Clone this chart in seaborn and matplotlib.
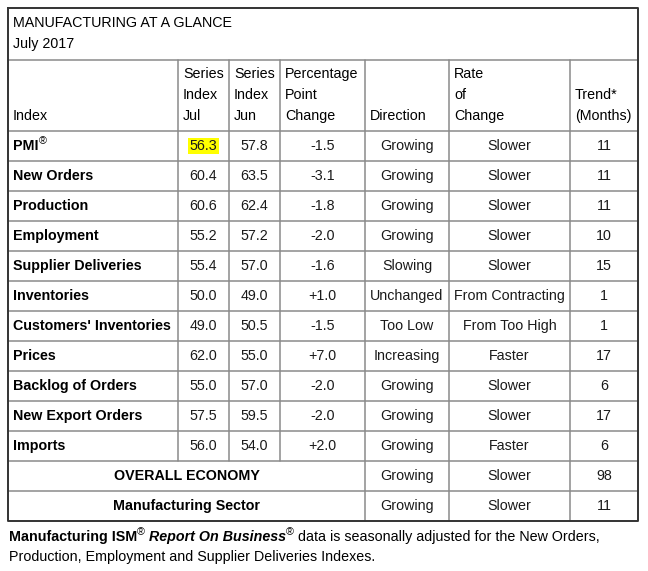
import numpy as np
import seaborn as sns
import matplotlib.pyplot as plt

# table contents
indexes = ['PMI', 'New Orders', 'Production', 'Employment', 'Supplier Deliveries',
           'Inventories', "Customers' Inventories", 'Prices', 'Backlog of Orders',
           'New Export Orders', 'Imports']
jul = [56.3, 60.4, 60.6, 55.2, 55.4, 50.0, 49.0, 62.0, 55.0, 57.5, 56.0]
jun = [57.8, 63.5, 62.4, 57.2, 57.0, 49.0, 50.5, 55.0, 57.0, 59.5, 54.0]
change = [-1.5, -3.1, -1.8, -2.0, -1.6, 1.0, -1.5, 7.0, -2.0, -2.0, 2.0]
direction = ['Growing', 'Growing', 'Growing', 'Growing', 'Slowing', 'Unchanged',
             'Too Low', 'Increasing', 'Growing', 'Growing', 'Growing']
rate = ['Slower', 'Slower', 'Slower', 'Slower', 'Slower', 'From Contracting',
        'From Too High', 'Faster', 'Slower', 'Slower', 'Faster']
trend = [11, 11, 11, 10, 15, 1, 1, 17, 6, 17, 6]
summary_labels = ['OVERALL ECONOMY', 'Manufacturing Sector']
summary_direction = ['Growing', 'Growing']
summary_rate = ['Slower', 'Slower']
summary_trend = [98, 11]
headers = [['Index'], ['Series', 'Index', 'Jul'], ['Series', 'Index', 'Jun'],
           ['Percentage', 'Point', 'Change'], ['Direction'], ['Rate', 'of', 'Change'],
           ['Trend*', '(Months)']]
title = 'MANUFACTURING AT A GLANCE'
subtitle = 'July 2017'

sns.set_theme(style='white')
plt.rcParams['font.family'] = ['Liberation Sans', 'DejaVu Sans']
FS = 10.3
TXT = '#1a1a1a'

fig = plt.figure(figsize=(6.48, 5.71), dpi=100, facecolor='white')
ax = fig.add_axes([0, 0, 1, 1])
ax.set_xlim(0, 648)
ax.set_ylim(571, 0)
ax.axis('off')

# grid geometry (pixels)
left, right, top = 8, 638, 8
title_bottom, header_bottom, row_h = 60, 131, 30
cols = [8, 178, 229, 280, 365, 449, 570, 638]
n_rows = len(indexes) + len(summary_labels)
bottom = header_bottom + row_h * n_rows
body_end = header_bottom + row_h * len(indexes)

grid = '#8a8a8a'
for y in [title_bottom] + [header_bottom + row_h * i for i in range(n_rows)]:
    ax.plot([left, right], [y, y], color=grid, lw=1.1)
for x in cols[1:4]:
    ax.plot([x, x], [title_bottom, body_end], color=grid, lw=1.1)
for x in cols[4:7]:
    ax.plot([x, x], [title_bottom, bottom], color=grid, lw=1.1)
ax.plot([left, right, right, left, left], [top, top, bottom, bottom, top],
        color='#333333', lw=1.4)

# title
ax.text(13, 23, title, fontsize=FS, va='center', ha='left', color='black')
ax.text(13, 44, subtitle, fontsize=FS, va='center', ha='left', color='black')

# header, bottom aligned
for j, lines in enumerate(headers):
    x0 = cols[j] + 5
    for k, line in enumerate(reversed(lines)):
        ax.text(x0, 116 - 21 * k, line, fontsize=FS, va='center', ha='left', color='black')

fig.canvas.draw()
renderer = fig.canvas.get_renderer()


def runs(x, y, parts):
    # draw text pieces one after another on a line
    for s, kw in parts:
        dy = kw.pop('dy', 0)
        t = ax.text(x, y + dy, s, va='center', ha='left', color='black', **kw)
        bb = t.get_window_extent(renderer=renderer)
        x += bb.width * 648 / fig.bbox.width


mids = [(cols[j] + cols[j + 1]) / 2 for j in range(len(cols) - 1)]
for i, name in enumerate(indexes):
    yc = header_bottom + row_h * i + 15
    if name == 'PMI':
        runs(13, yc, [('PMI', dict(fontsize=FS, fontweight='bold')),
                      ('®', dict(fontsize=FS * 0.75, dy=-5))])
    else:
        ax.text(13, yc, name, fontsize=FS, fontweight='bold', va='center', ha='left', color='black')
    bbox = dict(facecolor='#ffff00', edgecolor='none', pad=0.8) if i == 0 else None
    ax.text(mids[1], yc, f'{jul[i]:.1f}', fontsize=FS, va='center', ha='center', color=TXT, bbox=bbox)
    ax.text(mids[2], yc, f'{jun[i]:.1f}', fontsize=FS, va='center', ha='center', color=TXT)
    ax.text(mids[3], yc, f'{change[i]:+.1f}', fontsize=FS, va='center', ha='center', color=TXT)
    ax.text(mids[4], yc, direction[i], fontsize=FS, va='center', ha='center', color=TXT)
    ax.text(mids[5], yc, rate[i], fontsize=FS, va='center', ha='center', color=TXT)
    ax.text(mids[6], yc, str(trend[i]), fontsize=FS, va='center', ha='center', color=TXT)

for i, name in enumerate(summary_labels):
    yc = body_end + row_h * i + 15
    ax.text((cols[0] + cols[4]) / 2, yc, name, fontsize=FS, fontweight='bold',
            va='center', ha='center', color='black')
    ax.text(mids[4], yc, summary_direction[i], fontsize=FS, va='center', ha='center', color=TXT)
    ax.text(mids[5], yc, summary_rate[i], fontsize=FS, va='center', ha='center', color=TXT)
    ax.text(mids[6], yc, str(summary_trend[i]), fontsize=FS, va='center', ha='center', color=TXT)

# footnote
runs(9, 537, [('Manufacturing ISM', dict(fontsize=FS, fontweight='bold')),
              ('®', dict(fontsize=FS * 0.75, dy=-5)),
              (' Report On Business', dict(fontsize=FS, fontweight='bold', fontstyle='italic')),
              ('®', dict(fontsize=FS * 0.75, dy=-5)),
              (' data is seasonally adjusted for the New Orders,', dict(fontsize=FS))])
ax.text(9, 557, 'Production, Employment and Supplier Deliveries Indexes.',
        fontsize=FS, va='center', ha='left', color='black')

fig.savefig('out.png', dpi=100, facecolor='white')
